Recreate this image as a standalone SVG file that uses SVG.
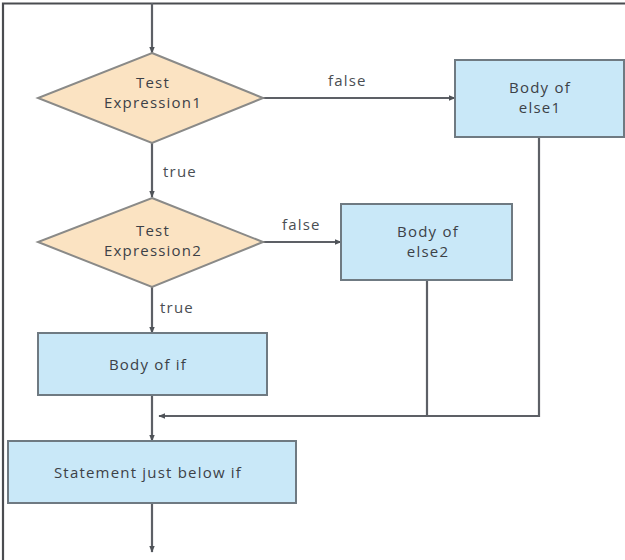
<svg xmlns="http://www.w3.org/2000/svg" width="625" height="560" viewBox="0 0 625 560">
<defs>
<style>
.line{stroke:#5d6066;stroke-width:2.2;fill:none}
.dia{fill:#fbe3c2;stroke:#8a8a88;stroke-width:2}
.box{fill:#c9e8f8;stroke:#6f7a82;stroke-width:2}
.t{font-family:"Open Sans","Liberation Sans",sans-serif;font-size:15px;letter-spacing:1.2px;fill:#3c4147;text-anchor:middle}
.lbl{font-family:"Open Sans","Liberation Sans",sans-serif;font-size:15px;letter-spacing:1.2px;fill:#4a4e53}
</style>
<marker id="ah" viewBox="0 0 10 10" refX="9" refY="5" markerWidth="7" markerHeight="7" markerUnits="userSpaceOnUse" orient="auto">
<path d="M0,1 L10,5 L0,9 Z" fill="#4f5358"/>
</marker>
</defs>
<rect width="625" height="560" fill="#ffffff"/>
<path d="M3,560 V3.5 H625" stroke="#4a4c50" stroke-width="2.2" fill="none"/>
<g id="connectors">
<path class="line" d="M152,3 V53" marker-end="url(#ah)"/>
<path class="line" d="M152,143 V197" marker-end="url(#ah)"/>
<path class="line" d="M263,98 H455" marker-end="url(#ah)"/>
<path class="line" d="M263,242 H341" marker-end="url(#ah)"/>
<path class="line" d="M152,287 V333" marker-end="url(#ah)"/>
<path class="line" d="M152,395 V441" marker-end="url(#ah)"/>
<path class="line" d="M539,137 V416 H427 V280"/>
<path class="line" d="M427,416 H159" marker-end="url(#ah)"/>
<path class="line" d="M152,503 V552" marker-end="url(#ah)"/>
<text class="lbl" x="328" y="86">false</text>
<text class="lbl" x="163" y="177">true</text>
<text class="lbl" x="282" y="230">false</text>
<text class="lbl" x="160" y="313">true</text>
</g>
<g id="test1">
<polygon class="dia" points="152,53 263,98 152,143 38,98"/>
<text class="t" x="153" y="88">Test</text>
<text class="t" x="153" y="108">Expression1</text>
</g>
<g id="else1">
<rect class="box" x="455" y="60" width="169" height="77"/>
<text class="t" x="540" y="93">Body of</text>
<text class="t" x="540" y="113">else1</text>
</g>
<g id="test2">
<polygon class="dia" points="152,198 263,242 152,287 38,242"/>
<text class="t" x="153" y="236">Test</text>
<text class="t" x="153" y="256">Expression2</text>
</g>
<g id="else2">
<rect class="box" x="341" y="204" width="171" height="76"/>
<text class="t" x="428" y="237">Body of</text>
<text class="t" x="428" y="257">else2</text>
</g>
<g id="bodyif">
<rect class="box" x="38" y="333" width="229" height="62"/>
<text class="t" x="148" y="370">Body of if</text>
</g>
<g id="stmt">
<rect class="box" x="8" y="441" width="288" height="62"/>
<text class="t" x="148" y="478">Statement just below if</text>
</g>
</svg>
